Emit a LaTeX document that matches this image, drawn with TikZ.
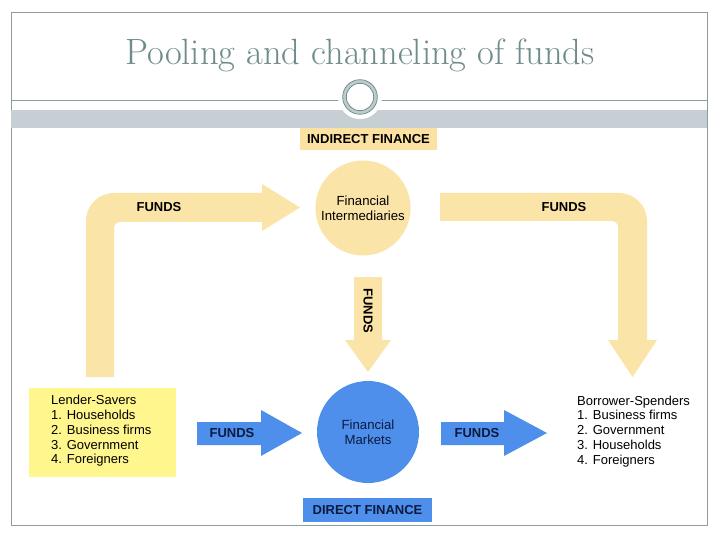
\documentclass[tikz,border=0pt]{standalone}
\usepackage{fontspec}
\newfontfamily\arialfont{Liberation Sans}
\definecolor{peach}{HTML}{FBE4A8}
\definecolor{peachbox}{HTML}{FCE2A2}
\definecolor{lendery}{HTML}{FFF68E}
\definecolor{blueA}{HTML}{4E8FEC}
\definecolor{navy}{HTML}{0B1A3E}
\definecolor{titlec}{HTML}{6F8B8B}
\definecolor{framec}{HTML}{8E9C9C}
\definecolor{bandc}{HTML}{C6CFD3}
\definecolor{ringc}{HTML}{6E8C8C}
\tikzset{
  lbl/.style={font=\arialfont\bfseries\fontsize{13}{15}\selectfont, inner sep=0pt},
  body/.style={font=\arialfont\fontsize{13.2}{15}\selectfont, inner sep=0pt, align=center},
  listtxt/.style={font=\arialfont\fontsize{13}{14.8}\selectfont, inner sep=0pt, align=left, anchor=north west},
}
\begin{document}
\begin{tikzpicture}[x=1pt,y=-1pt]
\useasboundingbox (0,0) rectangle (720,540);
\fill[white] (0,0) rectangle (720,540);
% frame
\draw[framec, line width=0.8pt] (11,12) rectangle (707,525);
% title
\node[text=titlec, font=\fontsize{36.5}{40}\selectfont, inner sep=0pt] (title) at (360,55) {Pooling and channeling of funds};
% band and line
\fill[bandc] (11.4,110) rectangle (706.6,128);
\draw[framec, line width=0.9pt] (11,100) -- (707,100);
% ornament
\fill[white] (360,97) circle (22);
\draw[ringc!45, line width=3pt] (360,97) circle (15.5);
\draw[ringc, line width=0.8pt] (360,97) circle (17.3);
\draw[ringc, line width=0.8pt] (360,97) circle (13.7);
% indirect finance label
\node[fill=peachbox, minimum width=137, minimum height=22, lbl] (indirect) at (368.5,139) {INDIRECT FINANCE};
% financial intermediaries
\node[circle, fill=peach, minimum size=95, body] (fi) at (363,208) {Financial\\Intermediaries};
% left L arrow
\fill[peach] (86,377) [rounded corners=28] -- (86,193) [sharp corners] -- (262,193) -- (262,184) -- (300,207.5) -- (262,231) -- (262,222) [rounded corners=6] -- (114,222) [sharp corners] -- (114,377) -- cycle;
\node[lbl] (f1) at (159,207) {FUNDS};
% right L arrow
\fill[peach] (440,193) [rounded corners=28] -- (647,193) [sharp corners] -- (647,340) -- (657,340) -- (632.5,377) -- (608,340) -- (618,340) [rounded corners=6] -- (618,221) [sharp corners] -- (440,221) -- cycle;
\node[lbl] (f2) at (564,207) {FUNDS};
% middle vertical arrow
\fill[peach] (354,277) -- (382,277) -- (382,340) -- (391,340) -- (368,372) -- (345,340) -- (354,340) -- cycle;
\node[lbl, rotate=-90] (f3) at (368,311) {FUNDS};
% financial markets
\node[circle, fill=blueA, minimum size=102, body, text=navy] (fm) at (368,432) {Financial\\Markets};
% direct finance
\node[fill=blueA, minimum width=129, minimum height=24, lbl, text=navy] (direct) at (367.5,510) {DIRECT FINANCE};
% blue arrows
\fill[blueA] (197,422) -- (261,422) -- (261,410) -- (302,433) -- (261,456) -- (261,445) -- (197,445) -- cycle;
\node[lbl, text=navy] (f4) at (232,433.5) {FUNDS};
\fill[blueA] (441,422) -- (504,422) -- (504,410) -- (547,433) -- (504,456) -- (504,445) -- (441,445) -- cycle;
\node[lbl, text=navy] (f5) at (477,433.5) {FUNDS};
% lender-savers
\fill[lendery] (29,388) rectangle (176,477);
\node[listtxt] (lender) at (51,395) {Lender-Savers\\1. Households\\2. Business firms\\3. Government\\4. Foreigners};
\node[listtxt] (borrower) at (577,395.5) {Borrower-Spenders\\1. Business firms\\2. Government\\3. Households\\4. Foreigners};
\end{tikzpicture}
\end{document}
